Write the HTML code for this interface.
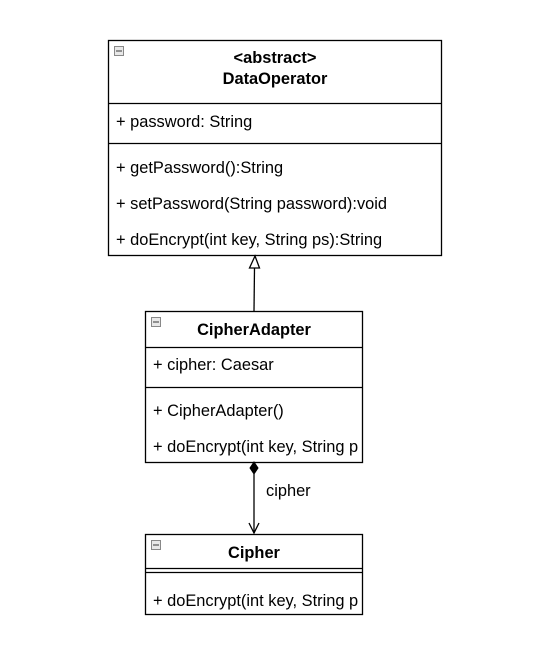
<!DOCTYPE html>
<html><head><style>body{margin:0;background:#fff}</style></head><body>
<svg width="552" height="651" xmlns="http://www.w3.org/2000/svg" font-family="Liberation Sans, Arial, sans-serif" font-size="16.4">
<rect width="552" height="651" fill="#fff"/>
<!-- DataOperator -->
<rect x="108.5" y="40.5" width="333" height="215" fill="#fff" stroke="#000" stroke-width="1.3"/>
<line x1="108" y1="103.5" x2="441" y2="103.5" stroke="#000" stroke-width="1.3"/>
<line x1="108" y1="143.5" x2="441" y2="143.5" stroke="#000" stroke-width="1.3"/>
<text x="275" y="63" text-anchor="middle" font-weight="bold">&lt;abstract&gt;</text>
<text x="275" y="84" text-anchor="middle" font-weight="bold">DataOperator</text>
<text x="116" y="127">+ password: String</text>
<text x="116" y="173">+ getPassword():String</text>
<text x="116" y="209">+ setPassword(String password):void</text>
<text x="116" y="245">+ doEncrypt(int key, String ps):String</text>
<!-- CipherAdapter -->
<rect x="145.5" y="311.5" width="217" height="151" fill="#fff" stroke="#000" stroke-width="1.3"/>
<line x1="145" y1="347.5" x2="362" y2="347.5" stroke="#000" stroke-width="1.3"/>
<line x1="145" y1="387.5" x2="362" y2="387.5" stroke="#000" stroke-width="1.3"/>
<text x="254" y="335" text-anchor="middle" font-weight="bold">CipherAdapter</text>
<text x="153" y="370">+ cipher: Caesar</text>
<text x="153" y="416">+ CipherAdapter()</text>
<text x="153" y="452">+ doEncrypt(int key, String p</text>
<!-- Cipher -->
<rect x="145.5" y="534.5" width="217" height="80" fill="#fff" stroke="#000" stroke-width="1.3"/>
<line x1="145" y1="568.5" x2="362" y2="568.5" stroke="#000" stroke-width="1.3"/>
<line x1="145" y1="572.5" x2="362" y2="572.5" stroke="#000" stroke-width="1.3"/>
<text x="254" y="558" text-anchor="middle" font-weight="bold">Cipher</text>
<text x="153" y="606">+ doEncrypt(int key, String p</text>
<!-- collapse icons -->
<g fill="#e8e8e8" stroke="#888" stroke-width="1">
<rect x="114.5" y="46.5" width="9" height="9"/><rect x="151.5" y="317.5" width="9" height="9"/><rect x="151.5" y="540.5" width="9" height="9"/>
</g>
<g stroke="#555" stroke-width="1.2">
<line x1="116" y1="51" x2="122" y2="51"/><line x1="153" y1="322" x2="159" y2="322"/><line x1="153" y1="545" x2="159" y2="545"/>
</g>
<!-- inheritance -->
<path d="M254 311 L254.5 268" stroke="#000" stroke-width="1.3" fill="none"/>
<path d="M255 256 L259.5 268 L249.5 268 Z" fill="#fff" stroke="#000" stroke-width="1.3"/>
<!-- composition -->
<path d="M254 474 L254 533" stroke="#000" stroke-width="1.3" fill="none"/>
<path d="M254 462 L258 468 L254 474 L250 468 Z" fill="#000" stroke="#000"/>
<path d="M249 523 L254 533 L259 523" fill="none" stroke="#000" stroke-width="1.3"/>
<text x="266" y="496">cipher</text>
</svg>
</body></html>
